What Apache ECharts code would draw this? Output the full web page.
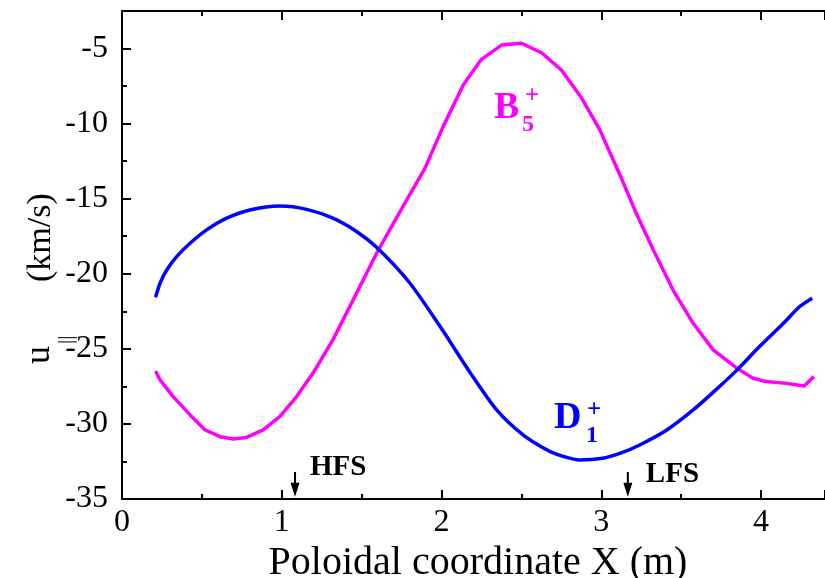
<!DOCTYPE html>
<html><head><meta charset="utf-8">
<script src="https://cdn.jsdelivr.net/npm/echarts@6/dist/echarts.min.js"></script>
<style>html,body{margin:0;padding:0;background:#fff}#c{width:825px;height:578px}</style>
</head><body><div id="c"></div>
<script>
// Data
const blueX = [0.21,0.238,0.28,0.342,0.426,0.53,0.655,0.80,0.989,1.156,1.32,1.47,1.60,1.80,1.99,2.18,2.345,2.51,2.68,2.866,3.01,3.12,3.24,3.41,3.575,3.72,3.85,3.99,4.14,4.24,4.32];
const blueY = [-21.57,-20.63,-19.75,-18.86,-17.97,-17.08,-16.3,-15.75,-15.49,-15.71,-16.3,-17.2,-18.3,-20.6,-23.5,-26.6,-29.07,-30.73,-31.84,-32.4,-32.28,-31.95,-31.4,-30.4,-29.07,-27.7,-26.4,-24.85,-23.3,-22.2,-21.63];
const magX = [0.21,0.238,0.32,0.426,0.52,0.613,0.697,0.78,0.884,0.989,1.093,1.197,1.32,1.447,1.60,1.76,1.896,2.01,2.136,2.25,2.376,2.50,2.626,2.75,2.877,2.99,3.12,3.22,3.325,3.45,3.575,3.70,3.85,3.95,4.03,4.16,4.27,4.33];
const magY = [-26.47,-27.07,-28.18,-29.4,-30.4,-30.85,-31.0,-30.9,-30.4,-29.5,-28.18,-26.6,-24.4,-21.74,-18.5,-15.5,-12.98,-10.2,-7.43,-5.72,-4.77,-4.65,-5.28,-6.43,-8.3,-10.4,-13.5,-16.0,-18.4,-21.1,-23.3,-25.07,-26.3,-26.96,-27.18,-27.3,-27.47,-26.85];
const markerNames = ['HFS','LFS'];
const markerX = [1.083, 3.166];
const arrowTopY = -33.2, arrowBotY = -34.85;

const F = 'Liberation Serif';
const chart = echarts.init(document.getElementById('c'));
const tick = (len) => ({show:true, inside:true, length:len, lineStyle:{color:'#000', width:2}});
const noLabel = {show:false};
const mkX = (pos, interval, len, extra) => Object.assign({
  type:'value', min:0, max:4.4, interval:interval, position:pos,
  axisLine:{show:false}, axisTick:tick(len), axisLabel:noLabel, splitLine:{show:false}
}, extra||{});
const mkY = (pos, interval, len, extra) => Object.assign({
  type:'value', min:-35, max:-2.5, interval:interval, position:pos,
  axisLine:{show:false}, axisTick:tick(len), axisLabel:noLabel, splitLine:{show:false}
}, extra||{});

chart.setOption({
  animation:false,
  backgroundColor:'#fff',
  grid:{left:122, right:0, top:11, bottom:79, containLabel:false, outerBoundsMode:'none'},
  xAxis:[
    mkX('bottom', 1, 9, {
      axisLine:{show:true, onZero:false, lineStyle:{color:'#000', width:2}},
      axisLabel:{show:true, fontFamily:F, fontSize:32, color:'#000', margin:8,
        formatter:(v)=> Number.isInteger(v) ? String(v) : ''},
      name:'Poloidal coordinate X (m)', nameLocation:'middle', nameGap:34,
      nameTextStyle:{fontFamily:F, fontSize:40, color:'#000', padding:[0,0,0,9]}
    }),
    mkX('bottom', 0.5, 5),
    mkX('top', 1, 9, {axisLine:{show:true, onZero:false, lineStyle:{color:'#000', width:2}}}),
    mkX('top', 0.5, 5)
  ],
  yAxis:[
    mkY('left', 5, 9, {
      axisLine:{show:true, onZero:false, lineStyle:{color:'#000', width:2}},
      axisLabel:{show:true, fontFamily:F, fontSize:32, color:'#000', margin:14,
        formatter:(v)=> (v % 5 === 0) ? String(v) : ''}
    }),
    mkY('left', 2.5, 5)
  ],
  series:[
    {type:'line', xAxisIndex:0, yAxisIndex:0, data: blueX.map((x,i)=>[x, blueY[i]]),
      showSymbol:false, smooth:0.25, lineStyle:{color:'#0000ff', width:3.5}, z:3},
    {type:'line', xAxisIndex:0, yAxisIndex:0, data: magX.map((x,i)=>[x, magY[i]]),
      showSymbol:false, smooth:false, lineStyle:{color:'#ff00ff', width:3.5}, z:2}
  ]
});

const txt = (t, x, y, size, color, bold, rot) => ({type:'text', x:x, y:y, rotation:rot||0,
  style:{text:t, fontFamily:F, fontSize:size, fontWeight:bold?'bold':'normal', fill:color,
         align:'left', verticalAlign:'middle'}});
const g = [];
// y axis title
g.push(txt('u', 40, 364, 36, '#000', false, Math.PI/2));
g.push(txt('||', 66, 344, 21, '#000', false, Math.PI/2));
g.push(txt('(km/s)', 41, 282, 34, '#000', false, Math.PI/2));
// species labels
g.push(txt('B', 494, 108.5, 38, '#ff00ff', true));
g.push(txt('5', 522, 125, 24, '#ff00ff', true));
g.push(txt('+', 525, 97, 25, '#ff00ff', true));
g.push(txt('D', 554, 418.5, 38, '#0000ff', true));
g.push(txt('1', 586, 435.5, 24, '#0000ff', true));
g.push(txt('+', 587, 411, 25, '#0000ff', true));
// HFS / LFS markers
const labOff = [[15, 467.5],[18, 475]];
markerX.forEach((mx, i) => {
  const top = chart.convertToPixel({xAxisIndex:0, yAxisIndex:0}, [mx, arrowTopY]);
  const bot = chart.convertToPixel({xAxisIndex:0, yAxisIndex:0}, [mx, arrowBotY]);
  g.push({type:'line', shape:{x1:top[0], y1:top[1], x2:bot[0], y2:bot[1]-10}, style:{stroke:'#000', lineWidth:2}});
  g.push({type:'polygon', shape:{points:[[bot[0]-4.5, bot[1]-14],[bot[0]+4.5, bot[1]-14],[bot[0], bot[1]]]}, style:{fill:'#000'}});
  g.push(txt(markerNames[i], top[0]+labOff[i][0], labOff[i][1], 29, '#000', true));
});
chart.setOption({graphic:g});
</script></body></html>
